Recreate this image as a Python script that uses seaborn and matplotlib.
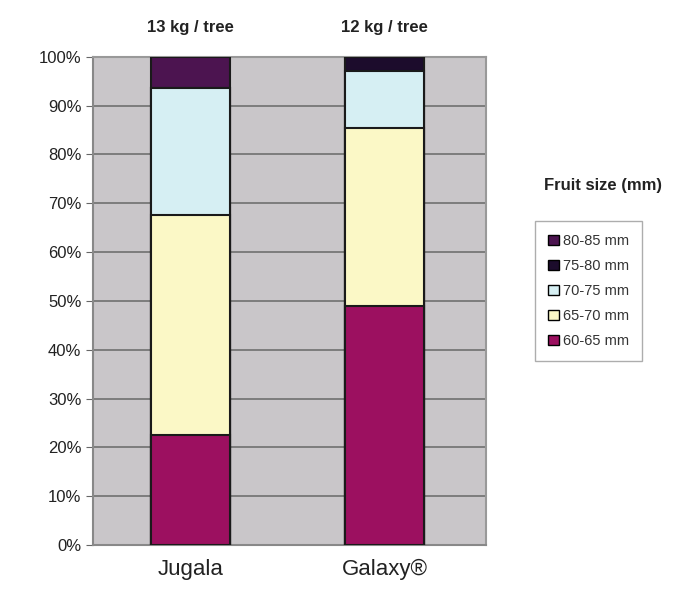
import numpy as np
import pandas as pd
import matplotlib
matplotlib.use("Agg")
import matplotlib.pyplot as plt
import seaborn as sns
from matplotlib.patches import Patch

# Données (pourcentages)
varieties = ["Jugala", "Galaxy®"]
yields = ["13 kg / tree", "12 kg / tree"]
sizes = ["60-65 mm", "65-70 mm", "70-75 mm", "75-80 mm", "80-85 mm"]
s60_65 = [22.5, 49.0]
s65_70 = [45.0, 36.5]
s70_75 = [26.0, 11.5]
s75_80 = [0.0, 3.0]
s80_85 = [6.5, 0.0]
colors = ["#9c1060", "#fbf8c6", "#d6eff3", "#1c0c2c", "#4c1450"]

sns.set_style("white")
plt.rcParams['font.family'] = ['Liberation Sans', 'DejaVu Sans']

df = pd.DataFrame({"variety": varieties, "60-65 mm": s60_65, "65-70 mm": s65_70,
                   "70-75 mm": s70_75, "75-80 mm": s75_80, "80-85 mm": s80_85})
cum = df[sizes].cumsum(axis=1)

fig = plt.figure(figsize=(6.81, 5.97), dpi=100)
ax = fig.add_axes([0.137, 0.087, 0.576, 0.818])
ax.set_facecolor("#c9c6c9")

# barres empilées : on dessine du cumul le plus haut vers le plus bas
for i in range(len(sizes) - 1, -1, -1):
    tmp = pd.DataFrame({"variety": varieties, "val": cum[sizes[i]].values})
    sns.barplot(data=tmp, x="variety", y="val", color=colors[i], width=0.41,
                edgecolor="#1a1a1a", linewidth=1.5, saturation=1, ax=ax, zorder=3)

ax.set_ylim(0, 100)
ax.set_xlim(-0.5, 1.52)
ax.set_yticks(np.arange(0, 101, 10))
ax.set_yticklabels([f"{v}%" for v in range(0, 101, 10)], fontsize=12, color="#222222")
ax.set_xticklabels(varieties, fontsize=16, color="#222222")
ax.set_xlabel("")
ax.set_ylabel("")
ax.yaxis.grid(True, color="#777777", linewidth=1.3, zorder=1)
ax.set_axisbelow(True)
ax.tick_params(axis="y", length=5, color="#666666", left=True)
ax.tick_params(axis="x", length=0, pad=10)
for side in ["left", "bottom"]:
    ax.spines[side].set_color("#888888")
    ax.spines[side].set_linewidth(1.5)
for side in ["top", "right"]:
    ax.spines[side].set_color("#999999")
    ax.spines[side].set_linewidth(1.5)

for i, y in enumerate(yields):
    ax.text(i, 1.06, y, transform=ax.get_xaxis_transform(), ha="center",
            va="center", fontsize=12, fontweight="bold", color="#222222")

handles = [Patch(facecolor=colors[i], edgecolor="black", label=sizes[i])
           for i in range(len(sizes) - 1, -1, -1)]
fig.text(0.885, 0.69, "Fruit size (mm)", ha="center", va="center",
         fontsize=12, fontweight="bold", color="#222222")
leg = fig.legend(handles=handles, loc="upper left", bbox_to_anchor=(0.786, 0.63),
                 fontsize=10.5, frameon=True, fancybox=False, edgecolor="#999999",
                 handlelength=0.7, handleheight=0.7, handletextpad=0.3,
                 labelspacing=0.75, borderpad=0.9, borderaxespad=0)
for t in leg.get_texts():
    t.set_color("#333333")

fig.savefig("out.png", dpi=100)
